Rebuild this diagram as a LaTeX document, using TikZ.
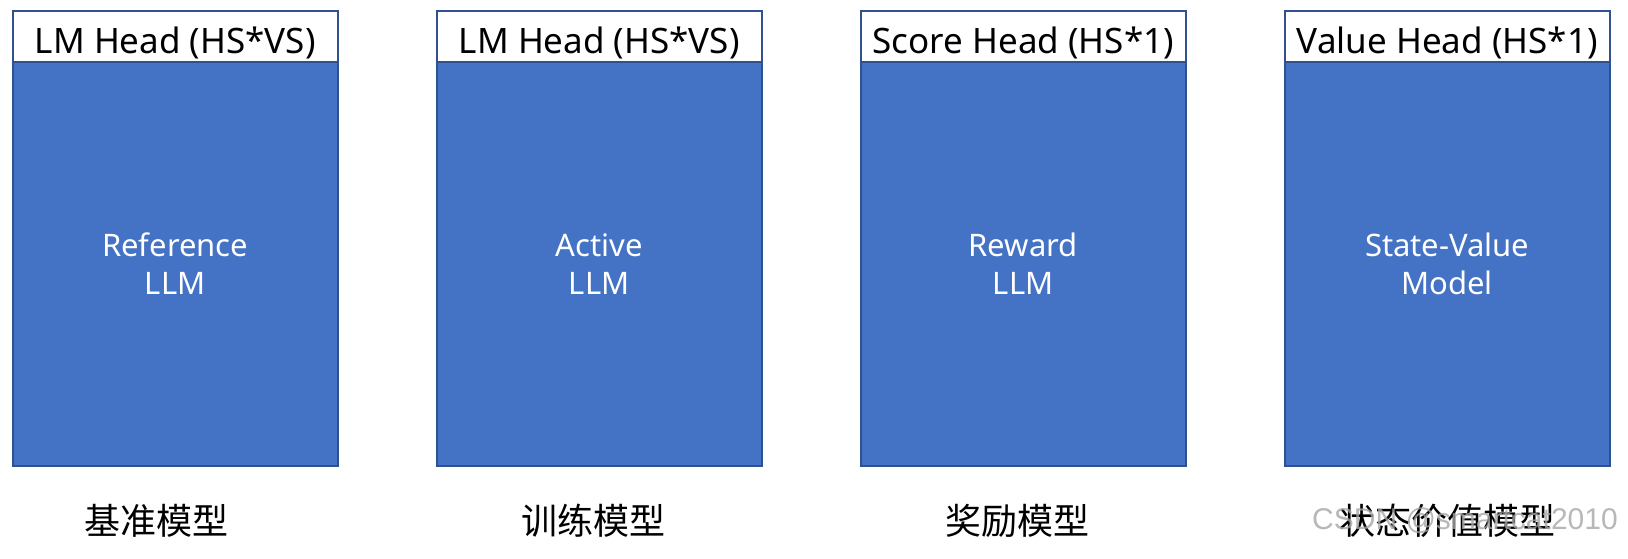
\documentclass[tikz,border=0pt]{standalone}
\usepackage{fontspec}
\setmainfont{Noto Sans}
\newfontfamily\cjk{Noto Sans CJK SC}
\newfontfamily\markfont{Liberation Sans}
\usetikzlibrary{positioning}
\definecolor{llmblue}{HTML}{4472C4}
\definecolor{llmedge}{HTML}{2F528F}

\begin{document}
\begin{tikzpicture}[x=1pt,y=-1pt,
    headbox/.style={draw=llmedge,line width=1.5pt,fill=white,minimum width=325pt,minimum height=51pt,inner sep=0pt,text height=35pt,text depth=0pt,font=\fontsize{35}{40}\selectfont},
    bodybox/.style={draw=llmedge,line width=1.5pt,fill=llmblue,minimum width=325pt,minimum height=404pt,inner sep=0pt,text=white,align=center,font=\fontsize{31}{38}\selectfont},
    namelabel/.style={inner sep=0pt,font=\cjk\fontsize{36}{40}\selectfont},
    watermark/.style={inner sep=0pt,text=black!35,opacity=0.8,font=\markfont\fontsize{30}{32}\selectfont}]
\useasboundingbox (0,0) rectangle (1628,558);

\foreach \i/\head/\body/\name/\dx in {0/{LM Head (HS*VS)}/{Reference\\LLM}/基准模型/-19,
                                     1/{LM Head (HS*VS)}/{Active\\LLM}/训练模型/-6,
                                     2/{Score Head (HS*1)}/{Reward\\LLM}/奖励模型/-6,
                                     3/{Value Head (HS*1)}/{State-Value\\Model}/状态价值模型/0}{
    \node[headbox, anchor=north west] (head\i) at (12+424*\i,10) {\head};
    \node[bodybox, below=-1.5pt of head\i] (body\i) {\body};
    \node[namelabel] (name\i) at ([xshift=\dx pt, yshift=-54pt]body\i.south) {\name};
}

\node[watermark] (mark) at (1465,521) {CSDN @smartcat2010};

\end{tikzpicture}
\end{document}
